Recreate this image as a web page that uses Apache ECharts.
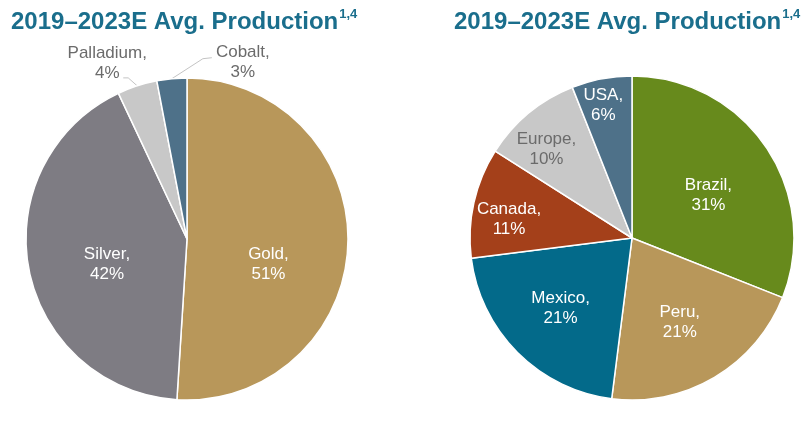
<!DOCTYPE html>
<html>
<head>
<meta charset="utf-8">
<script src="https://cdn.jsdelivr.net/npm/echarts@6/dist/echarts.min.js"></script>
<style>
html,body{margin:0;padding:0;background:#fff;}
#c{width:809px;height:423px;}
</style>
</head>
<body>
<div id="c"></div>
<script>
// ---- data ----
const titleText = '2019–2023E Avg. Production';
const titleSup = '1,4';

const metalNames = ['Gold', 'Silver', 'Palladium', 'Cobalt'];
const metalValues = [51, 42, 4, 3];
const metalColors = ['#B8975A', '#7E7C83', '#C8C8C8', '#4E7189'];

const regionNames = ['Brazil', 'Peru', 'Mexico', 'Canada', 'Europe', 'USA'];
const regionValues = [31, 21, 21, 11, 10, 6];
const regionColors = ['#678A1C', '#B8975A', '#036A8A', '#A4401A', '#C8C8C8', '#4E7189'];

// ---- styling helpers ----
const FONT = '"Liberation Sans", Arial, sans-serif';
const LABEL_SIZE = 17;
const insideLabel = (offset, color) => ({
  show: true, position: 'inside', formatter: '{b},\n{c}%',
  color: color || '#ffffff', fontSize: LABEL_SIZE, lineHeight: 20, fontFamily: FONT,
  offset: offset
});

const metalOffsets = [[-2, 23], [2, 10], null, null];
const metalData = metalNames.map((n, i) => {
  const d = { name: n, value: metalValues[i], itemStyle: { color: metalColors[i] } };
  if (metalOffsets[i]) {
    d.label = insideLabel(metalOffsets[i]);
    d.labelLine = { show: false };
  } else {
    d.label = {
      show: true, position: 'outside', formatter: '{b},\n{c}%',
      color: '#6b6b6b', fontSize: LABEL_SIZE, lineHeight: 20, fontFamily: FONT
    };
    d.labelLine = { show: true, length: 12, length2: 6, lineStyle: { color: '#c4c4c4', width: 1 } };
  }
  return d;
});

const regionOffsets = [[7, 5], [5, 12], [-12, 11], [-41, 0], [-32, -24], [-13, -50]];
const regionData = regionNames.map((n, i) => ({
  name: n, value: regionValues[i], itemStyle: { color: regionColors[i] },
  label: insideLabel(regionOffsets[i], n === 'Europe' ? '#6b6b6b' : '#ffffff'),
  labelLine: { show: false }
}));

// outside label placement relative to slice edge (left pie)
const outsideLayout = {
  Palladium: { dx: -30, dy: -23, p1: [-9, -8], p2: [-14, -8] },
  Cobalt: { dx: 71, dy: -16, p1: [31, -20], p2: [40, -21] }
};

const titleRich = {
  m: { fontSize: 24, fontWeight: 'bold', color: '#1A6E8C', fontFamily: FONT, lineHeight: 28 },
  s: { fontSize: 13, fontWeight: 'bold', color: '#1A6E8C', fontFamily: FONT, verticalAlign: 'top', lineHeight: 28, padding: [0, 0, 10, 1] }
};

const chart = echarts.init(document.getElementById('c'), null, { renderer: 'canvas' });
chart.setOption({
  animation: false,
  backgroundColor: '#ffffff',
  title: [
    { text: '{m|' + titleText + '}{s|' + titleSup + '}', left: 11, top: 8, padding: 0, textStyle: { rich: titleRich } },
    { text: '{m|' + titleText + '}{s|' + titleSup + '}', left: 454, top: 8, padding: 0, textStyle: { rich: titleRich } }
  ],
  series: [
    {
      type: 'pie', center: [187, 239], radius: 161, startAngle: 90, clockwise: true,
      avoidLabelOverlap: false,
      itemStyle: { borderColor: '#ffffff', borderWidth: 1.5 },
      emphasis: { disabled: true },
      data: metalData,
      labelLayout: function (p) {
        const name = metalNames[p.dataIndex];
        const o = outsideLayout[name];
        if (!o || !p.labelLinePoints) return {};
        const e = p.labelLinePoints[0];
        return {
          x: e[0] + o.dx, y: e[1] + o.dy, align: 'center', verticalAlign: 'middle',
          labelLinePoints: [[e[0], e[1]], [e[0] + o.p1[0], e[1] + o.p1[1]], [e[0] + o.p2[0], e[1] + o.p2[1]]]
        };
      }
    },
    {
      type: 'pie', center: [632, 238], radius: 162, startAngle: 90, clockwise: true,
      avoidLabelOverlap: false,
      itemStyle: { borderColor: '#ffffff', borderWidth: 1.5 },
      emphasis: { disabled: true },
      data: regionData
    }
  ]
});
</script>
</body>
</html>
